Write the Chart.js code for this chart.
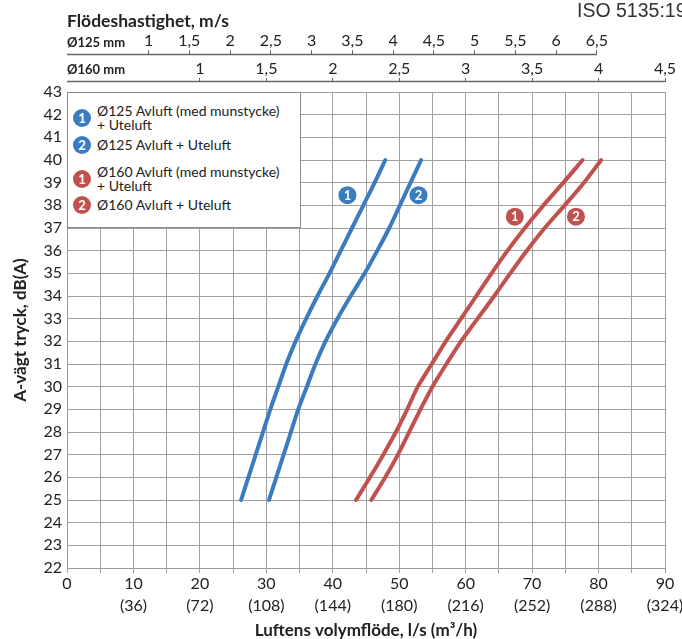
<!DOCTYPE html>
<html>
<head>
<meta charset="utf-8">
<script src="https://cdn.jsdelivr.net/npm/chart.js@4/dist/chart.umd.min.js"></script>
<style>
  body { margin: 0; background: #fff; }
  #wrap { position: relative; width: 682px; height: 639px; }
  #legend {
    position: absolute; left: 67px; top: 92px; width: 234px; height: 136px;
    box-sizing: border-box; background: #fff; border: 1px solid #8a8a8a;
    font-family: Lato, sans-serif; font-size: 14px; color: #222;
  }
  .item { position: absolute; left: 5px; display: flex; align-items: center; }
  .num {
    width: 18px; height: 18px; border-radius: 50%; color: #fff; flex: none;
    font-weight: bold; font-size: 13px; margin-right: 6px;
    display: flex; align-items: center; justify-content: center;
  }
  .txt { line-height: 13.5px; white-space: nowrap; }
</style>
</head>
<body>
<div id="wrap">
  <canvas id="myChart" width="682" height="639"></canvas>
  <div id="legend"></div>
</div>
<script>
// sound level, dB(A)
const dbLevels = [25, 26, 27, 28, 29, 30, 31, 32, 33, 34, 35, 36, 37, 38, 39, 40];
// air flow, l/s, at each dB level
const flow125Nozzle = [26.2, 27.3, 28.4, 29.5, 30.6, 31.8, 33.0, 34.4, 36.0, 37.7, 39.5, 41.2, 42.9, 44.6, 46.3, 47.9];
const flow125 = [30.4, 31.5, 32.6, 33.7, 34.8, 36.1, 37.4, 38.9, 40.7, 42.7, 44.8, 46.7, 48.5, 50.1, 51.7, 53.3];
const flow160Nozzle = [43.5, 45.6, 47.6, 49.5, 51.2, 52.8, 54.9, 57.0, 59.3, 61.6, 63.9, 66.3, 68.9, 71.7, 74.7, 77.6];
const flow160 = [45.8, 47.9, 49.8, 51.5, 53.2, 55.0, 57.1, 59.3, 61.8, 64.3, 66.7, 69.2, 71.9, 74.9, 77.8, 80.4];

// tick labels
const flowTicks = [0, 10, 20, 30, 40, 50, 60, 70, 80, 90];
const flowTicksM3h = ["", "(36)", "(72)", "(108)", "(144)", "(180)", "(216)", "(252)", "(288)", "(324)"];
const speed125Ticks = [1, 1.5, 2, 2.5, 3, 3.5, 4, 4.5, 5, 5.5, 6, 6.5];
const speed160Ticks = [1, 1.5, 2, 2.5, 3, 3.5, 4, 4.5];

// l/s per m/s for each duct size
const q125 = 12.27;
const q160 = 20.0;

const blue = "#3b7cc0";
const red = "#c1514e";

// numbered tags next to the curves (l/s, dB)
const tags = [
  { x: 42.2, y: 38.45, n: "1", c: blue },
  { x: 52.9, y: 38.45, n: "2", c: blue },
  { x: 67.4, y: 37.5, n: "1", c: red },
  { x: 76.6, y: 37.5, n: "2", c: red },
];

const legendItems = [
  { n: "1", c: blue, text: "Ø125 Avluft (med munstycke)<br>+ Uteluft", top: 11 },
  { n: "2", c: blue, text: "Ø125 Avluft + Uteluft", top: 43 },
  { n: "1", c: red, text: "Ø160 Avluft (med munstycke)<br>+ Uteluft", top: 72 },
  { n: "2", c: red, text: "Ø160 Avluft + Uteluft", top: 103 },
];

const legendEl = document.getElementById("legend");
legendItems.forEach(function (it) {
  const d = document.createElement("div");
  d.className = "item";
  d.style.top = it.top + "px";
  d.innerHTML = '<span class="num" style="background:' + it.c + '">' + it.n + '</span><span class="txt">' + it.text + "</span>";
  legendEl.appendChild(d);
});

Chart.defaults.font.family = "Lato, sans-serif";
Chart.defaults.color = "#222";

const comma = (v) => String(v).replace(".", ",");

const extras = {
  id: "extras",
  afterDatasetsDraw(chart) {
    const { ctx, scales: { x, y } } = chart;
    ctx.save();
    tags.forEach(function (t) {
      const px = x.getPixelForValue(t.x);
      const py = y.getPixelForValue(t.y);
      ctx.beginPath();
      ctx.arc(px, py, 9, 0, Math.PI * 2);
      ctx.fillStyle = t.c;
      ctx.fill();
      ctx.fillStyle = "#fff";
      ctx.font = "bold 13px Lato";
      ctx.textAlign = "center";
      ctx.textBaseline = "middle";
      ctx.fillText(t.n, px, py + 0.5);
    });
    ctx.restore();
  },
  afterDraw(chart) {
    const { ctx, scales: { x125, x160 } } = chart;
    ctx.save();
    ctx.strokeStyle = "#666";
    ctx.lineWidth = 1.5;
    ctx.beginPath();
    ctx.moveTo(x125.left, x125.bottom - 0.5);
    ctx.lineTo(x125.getPixelForValue(6.5), x125.bottom - 0.5);
    ctx.moveTo(x160.left, x160.bottom - 0.5);
    ctx.lineTo(x160.right, x160.bottom - 0.5);
    ctx.stroke();

    ctx.fillStyle = "#222";
    ctx.font = "bold 13px Lato";
    ctx.textAlign = "left";
    ctx.textBaseline = "middle";
    ctx.fillText("Ø125 mm", x125.left, x125.bottom - 12);
    ctx.fillText("Ø160 mm", x160.left, x160.bottom - 12);

    ctx.font = '19.5px "Liberation Sans"';
    ctx.fillStyle = "#333";
    ctx.fillText("ISO 5135:1997", 577, 12);
    ctx.restore();
  },
};

const ctx = document.getElementById("myChart");
const chart = new Chart(ctx, {
  type: "line",
  data: {
    datasets: [
      { label: "Ø125 med munstycke", data: dbLevels.map((db, i) => ({ x: flow125Nozzle[i], y: db })), borderColor: blue },
      { label: "Ø125", data: dbLevels.map((db, i) => ({ x: flow125[i], y: db })), borderColor: blue },
      { label: "Ø160 med munstycke", data: dbLevels.map((db, i) => ({ x: flow160Nozzle[i], y: db })), borderColor: red },
      { label: "Ø160", data: dbLevels.map((db, i) => ({ x: flow160[i], y: db })), borderColor: red },
    ],
  },
  options: {
    responsive: false,
    animation: false,
    layout: { padding: { right: 17 } },
    elements: {
      point: { radius: 0 },
      line: { borderWidth: 4, tension: 0.3, borderCapStyle: "round", fill: false },
    },
    plugins: { legend: { display: false }, tooltip: { enabled: false } },
    scales: {
      x: {
        type: "linear",
        position: "bottom",
        min: 0,
        max: 90,
        afterFit(s) { s.height = 71; s.paddingLeft = 0; s.paddingRight = 0; },
        grid: { color: "#a0a0a0", tickLength: 5 },
        border: { color: "#999" },
        ticks: {
          stepSize: 5,
          autoSkip: false,
          maxRotation: 0,
          padding: 0,
          font: { size: 16, lineHeight: 1.375 },
          callback(v) {
            const i = flowTicks.indexOf(v);
            if (i < 0) return "";
            return flowTicksM3h[i] ? [String(v), flowTicksM3h[i]] : String(v);
          },
        },
        title: {
          display: true,
          text: "Luftens volymflöde, l/s (m³/h)",
          font: { size: 17, weight: "bold", lineHeight: 1 },
          padding: { top: 0, bottom: 0 },
        },
      },
      y: {
        type: "linear",
        min: 22,
        max: 43,
        afterFit(s) { s.width = 67; },
        grid: { color: "#a0a0a0", drawTicks: false },
        border: { color: "#999" },
        ticks: { stepSize: 1, autoSkip: false, padding: 5, font: { size: 16 } },
        title: {
          display: true,
          text: "A-vägt tryck, dB(A)",
          font: { size: 17, weight: "bold", lineHeight: 1 },
          padding: { top: 12, bottom: 0 },
        },
      },
      x125: {
        type: "linear",
        position: "top",
        weight: 3,
        min: 0,
        max: 90 / q125,
        afterBuildTicks(s) { s.ticks = speed125Ticks.map((v) => ({ value: v })); },
        afterFit(s) { s.height = 55; s.paddingLeft = 0; s.paddingRight = 0; },
        grid: { drawOnChartArea: false, tickLength: 5, color: "#666" },
        border: { display: false },
        ticks: { autoSkip: false, maxRotation: 0, padding: 0, font: { size: 16 }, callback: comma },
        title: {
          display: true,
          text: "Flödeshastighet, m/s",
          align: "start",
          font: { size: 17.5, weight: "bold", lineHeight: 1 },
          padding: { top: 13, bottom: 0 },
        },
      },
      x160: {
        type: "linear",
        position: "top",
        weight: 2,
        min: 0,
        max: 90 / q160,
        afterBuildTicks(s) { s.ticks = speed160Ticks.map((v) => ({ value: v })); },
        afterFit(s) { s.height = 27; s.paddingLeft = 0; s.paddingRight = 0; },
        grid: { drawOnChartArea: false, tickLength: 4, color: "#666" },
        border: { display: false },
        ticks: { autoSkip: false, maxRotation: 0, padding: 0, font: { size: 16 }, callback: comma },
      },
      gap: {
        type: "linear",
        position: "top",
        weight: 1,
        grid: { display: false },
        border: { display: false },
        ticks: { display: false },
        afterFit(s) { s.height = 10; },
      },
    },
  },
  plugins: [extras],
});
</script>
</body>
</html>
